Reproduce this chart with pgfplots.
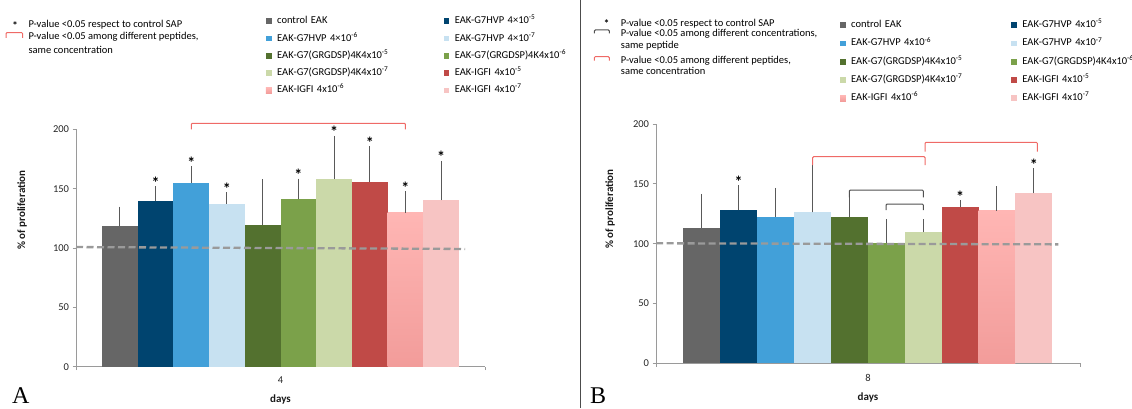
\documentclass[border=0pt]{standalone}
\usepackage{pgfplots}
\pgfplotsset{compat=1.18}
\usepackage{fontspec}
\setmainfont{Carlito}
\newfontfamily\serifletter{Liberation Serif}
\definecolor{c1}{HTML}{666666}
\definecolor{c2}{HTML}{00446F}
\definecolor{c3}{HTML}{42A0D9}
\definecolor{c4}{HTML}{C7E1F1}
\definecolor{c5}{HTML}{53712F}
\definecolor{c6}{HTML}{7BA14A}
\definecolor{c7}{HTML}{CBD9A9}
\definecolor{c8}{HTML}{C04A47}
\definecolor{pkTop}{HTML}{FFB6B4}
\definecolor{pkBot}{HTML}{F29C9A}
\definecolor{c10}{HTML}{F7C4C3}
\definecolor{errc}{HTML}{595959}
\definecolor{redb}{HTML}{EF6A66}
\definecolor{blkb}{HTML}{505050}
\definecolor{dashc}{HTML}{9A9A9A}
\definecolor{axc}{HTML}{9A9A9A}
\tikzset{astk/.style={font=\bfseries\fontsize{16}{16}\selectfont, anchor=south, inner sep=0pt, yshift=0pt}}
\pgfplotsset{
  errb/.style={error bars/y dir=plus, error bars/y explicit,
    error bars/error bar style={color=errc, line width=1pt},
    error bars/error mark options={color=errc, line width=1pt, mark size=2.2pt}},
  sq/.style={legend image code/.code={\fill[##1] (0pt,-2.9pt) rectangle (5.8pt,2.9pt);}},
  bar/.style={ybar, bar shift=0pt, draw=none, fill=#1, sq, errb},
  gbar/.style={ybar, bar shift=0pt, draw=none, top color=pkTop, bottom color=pkBot, sq, errb},
  dashl/.style={forget plot, color=dashc, line width=2.3pt, dash pattern=on 7pt off 3.5pt},
  brk/.style={forget plot, color=#1, line width=1pt, rounded corners=1pt},
  panel/.style={
    scale only axis, xmin=0, ymin=0, ymax=200, clip=false,
    axis x line*=bottom, axis y line*=left,
    axis line style={color=axc, line width=0.8pt},
    ytick={0,50,100,150,200},
    tick style={color=axc, line width=0.8pt},
    major tick length=3.5pt, tick align=outside,
    /pgf/number format/assume math mode=true,
    ticklabel style={font=\fontsize{10.5}{12}\selectfont, color=black!85},
    xticklabels={},
    extra x tick style={major tick length=0pt},
    xticklabel style={yshift=-7pt},
    xlabel={days},
    ylabel={\% of proliferation},
    label style={font=\bfseries\fontsize{11}{13}\selectfont, color=black!90},
    legend columns=2, legend cell align=left,
    legend style={draw=none, fill=none, anchor=north west, inner sep=0pt, outer sep=0pt,
      font=\fontsize{10.5}{12}\selectfont,
      nodes={inner sep=0pt, text height=7.5pt, text depth=2.5pt},
      /tikz/every odd column/.append style={column sep=5.4pt}},
  },
}
\begin{document}
\begin{tikzpicture}
\useasboundingbox (0,0) rectangle (1132pt,408pt);
\draw[black!70, line width=1pt] (580pt,0pt) -- (580pt,408pt);
% ---- panel letters
\node[font=\serifletter\fontsize{24}{24}\selectfont, anchor=base west, inner sep=0pt] at (12pt,5pt) {A};
\node[font=\serifletter\fontsize{24}{24}\selectfont, anchor=base west, inner sep=0pt] at (590pt,5pt) {B};
% ---- left annotation
\node[font=\bfseries\fontsize{11}{12}\selectfont, anchor=base, inner sep=0pt] at (15pt,378.5pt) {*};
\node[font=\fontsize{10.5}{12}\selectfont, anchor=base west, inner sep=0pt] at (28.3pt,380pt) {P-value <0.05 respect to control SAP};
\node[font=\fontsize{10.5}{12}\selectfont, anchor=base west, inner sep=0pt] at (28.3pt,368pt) {P-value <0.05 among different peptides,};
\node[font=\fontsize{10.5}{12}\selectfont, anchor=base west, inner sep=0pt] at (28.3pt,355pt) {same concentration};
\draw[redb, line width=1pt, rounded corners=1pt] (6pt,370pt) -- (6pt,375.3pt) -- (22.7pt,375.3pt) -- (22.7pt,370pt);
% ---- right annotation
\node[font=\bfseries\fontsize{11}{12}\selectfont, anchor=base, inner sep=0pt] at (606.7pt,380.2pt) {*};
\node[font=\fontsize{10.5}{12}\selectfont, anchor=base west, inner sep=0pt] at (620.7pt,381.8pt) {P-value <0.05 respect to control SAP};
\node[font=\fontsize{10.5}{12}\selectfont, anchor=base west, inner sep=0pt] at (620.7pt,371pt) {P-value <0.05 among different concentrations,};
\node[font=\fontsize{10.5}{12}\selectfont, anchor=base west, inner sep=0pt] at (620.7pt,359.5pt) {same peptide};
\node[font=\fontsize{10.5}{12}\selectfont, anchor=base west, inner sep=0pt] at (620.7pt,344.5pt) {P-value <0.05 among different peptides,};
\node[font=\fontsize{10.5}{12}\selectfont, anchor=base west, inner sep=0pt] at (620.7pt,333.5pt) {same concentration};
\draw[blkb, line width=1pt, rounded corners=1pt] (594.3pt,374.7pt) -- (594.3pt,378pt) -- (609.3pt,378pt) -- (609.3pt,374.7pt);
\draw[redb, line width=1pt, rounded corners=1pt] (594.3pt,347.3pt) -- (594.3pt,351.3pt) -- (609.3pt,351.3pt) -- (609.3pt,347.3pt);

% ================= LEFT PANEL (day 4)
\begin{axis}[panel, at={(76pt,41.3pt)}, anchor=south west,
  width=409pt, height=237.4pt, xmax=409, bar width=35.7,
  xtick={0,409}, extra x ticks={204.5}, extra x tick labels={4},
  xlabel style={at={(axis description cs:0.5,-0.139)}, anchor=center},
  ylabel style={at={(axis description cs:-0.132,0.66)}, anchor=center},
  legend style={at={(0.4645,1.4764)}, row sep=7.3pt,
    /tikz/every even column/.append style={text width=161pt, column sep=5.4pt}},
]
\addplot[bar=c1] coordinates {(43.85,118.3) +- (0,14.8)};
\addlegendentry{control EAK}
\addplot[bar=c2] coordinates {(79.55,139.6) +- (0,10.7)};
\addlegendentry{EAK-G7HVP 4×10\textsuperscript{-5}}
\addplot[bar=c3] coordinates {(115.25,154.8) +- (0,12.1)};
\addlegendentry{EAK-G7HVP 4×10\textsuperscript{-6}}
\addplot[bar=c4] coordinates {(150.95,137.4) +- (0,7.8)};
\addlegendentry{EAK-G7HVP 4×10\textsuperscript{-7}}
\addplot[bar=c5] coordinates {(186.65,119.7) +- (0,36.2)};
\addlegendentry{EAK-G7(GRGDSP)4K4x10\textsuperscript{-5}}
\addplot[bar=c6] coordinates {(222.35,141.0) +- (0,15.5)};
\addlegendentry{EAK-G7(GRGDSP)4K4x10\textsuperscript{-6}}
\addplot[bar=c7] coordinates {(258.05,158.1) +- (0,34.6)};
\addlegendentry{EAK-G7(GRGDSP)4K4x10\textsuperscript{-7}}
\addplot[bar=c8] coordinates {(293.75,155.6) +- (0,28.4)};
\addlegendentry{EAK-IGFI 4x10\textsuperscript{-5}}
\addplot[gbar] coordinates {(329.45,129.5) +- (0,16.3)};
\addlegendentry{EAK-IGFI 4x10\textsuperscript{-6}}
\addplot[bar=c10] coordinates {(365.15,140.4) +- (0,31.2)};
\addlegendentry{EAK-IGFI 4x10\textsuperscript{-7}}
\addplot[dashl] coordinates {(0,100.8) (389,99.2)};
\addplot[brk=redb] coordinates {(115.25,200) (115.25,205) (329.45,205) (329.45,200)};
\node[astk] at (axis cs:79.55,150.3) {*};
\node[astk] at (axis cs:115.25,166.9) {*};
\node[astk] at (axis cs:150.95,145.2) {*};
\node[astk] at (axis cs:222.35,156.5) {*};
\node[astk] at (axis cs:258.05,192.7) {*};
\node[astk] at (axis cs:293.75,184.0) {*};
\node[astk] at (axis cs:329.45,145.8) {*};
\node[astk] at (axis cs:365.15,171.6) {*};
\end{axis}

% ================= RIGHT PANEL (day 8)
\begin{axis}[panel, at={(656pt,44.7pt)}, anchor=south west,
  width=424pt, height=239.3pt, xmax=424, bar width=36.9,
  xtick={0,424}, extra x ticks={212}, extra x tick labels={8},
  xlabel style={at={(axis description cs:0.5,-0.141)}, anchor=center},
  ylabel style={at={(axis description cs:-0.108,0.645)}, anchor=center},
  legend style={at={(0.434,1.4338)}, row sep=8.3pt,
    /tikz/every even column/.append style={text width=155pt, column sep=5pt}},
]
\addplot[bar=c1] coordinates {(45.75,113.4) +- (0,26.4)};
\addlegendentry{control EAK}
\addplot[bar=c2] coordinates {(82.65,127.9) +- (0,18.9)};
\addlegendentry{EAK-G7HVP 4x10\textsuperscript{-5}}
\addplot[bar=c3] coordinates {(119.55,122.6) +- (0,22.2)};
\addlegendentry{EAK-G7HVP 4x10\textsuperscript{-6}}
\addplot[bar=c4] coordinates {(156.45,126.2) +- (0,37.3)};
\addlegendentry{EAK-G7HVP 4x10\textsuperscript{-7}}
\addplot[bar=c5] coordinates {(193.35,122.6) +- (0,15.8)};
\addlegendentry{EAK-G7(GRGDSP)4K4x10\textsuperscript{-5}}
\addplot[bar=c6] coordinates {(230.25,100.8) +- (0,17.9)};
\addlegendentry{EAK-G7(GRGDSP)4K4x10\textsuperscript{-6}}
\addplot[bar=c7] coordinates {(267.15,109.7) +- (0,9.0)};
\addlegendentry{EAK-G7(GRGDSP)4K4x10\textsuperscript{-7}}
\addplot[bar=c8] coordinates {(304.05,130.9) +- (0,3.4)};
\addlegendentry{EAK-IGFI 4x10\textsuperscript{-5}}
\addplot[gbar] coordinates {(340.95,127.3) +- (0,18.9)};
\addlegendentry{EAK-IGFI 4x10\textsuperscript{-6}}
\addplot[bar=c10] coordinates {(377.85,142.3) +- (0,18.7)};
\addlegendentry{EAK-IGFI 4x10\textsuperscript{-7}}
\addplot[dashl] coordinates {(0,100.3) (402.3,99.4)};
\addplot[brk=redb] coordinates {(156.7,165.7) (156.7,172.7) (269,172.7) (269,165.7)};
\addplot[brk=redb] coordinates {(269,176.9) (269,184.7) (381.3,184.7) (381.3,176.9)};
\addplot[brk=blkb] coordinates {(193.3,138.7) (193.3,144.8) (267.3,144.8) (267.3,138.7)};
\addplot[brk=blkb] coordinates {(230,128.1) (230,133.1) (267.3,133.1) (267.3,128.1)};
\node[astk] at (axis cs:82.65,146.8) {*};
\node[astk] at (axis cs:304.05,134.3) {*};
\node[astk] at (axis cs:377.85,161.0) {*};
\end{axis}
\end{tikzpicture}
\end{document}
